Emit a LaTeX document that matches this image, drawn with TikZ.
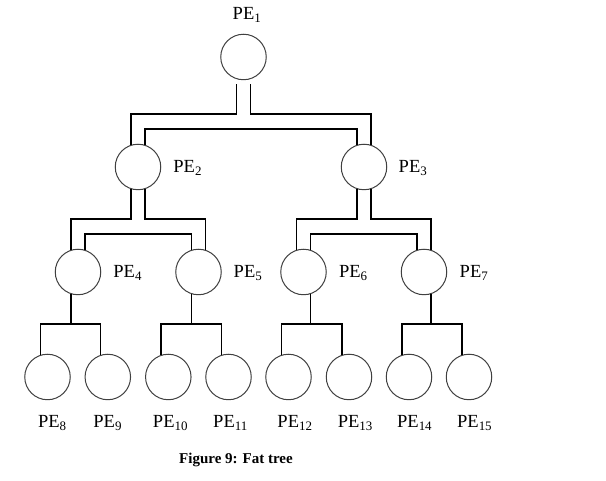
\documentclass[tikz,border=0pt]{standalone}
\usepackage{fontspec}
\setmainfont{Liberation Serif}
\begin{document}
\begin{tikzpicture}[x=1pt,y=1pt,
            pe/.style={circle,draw=black!75,line width=1pt,minimum size=45.5pt,inner sep=0pt},
            lbl/.style={anchor=base,font=\fontsize{18.5}{20}\selectfont},
            link/.style={line width=1.6pt}]
            \useasboundingbox (0,0) rectangle (606,481);
            \coordinate (h1o) at (0,367);
            \coordinate (h1i) at (0,352);
            \coordinate (h2o) at (0,262);
            \coordinate (h2i) at (0,247);
            \coordinate (h3) at (0,157);
            \node[pe] (p1) at (243.5,424){};
            \node[pe] (p2) at (138,314){};
            \node[pe] (p3) at (364,314){};
            \node[pe] (p4) at (78,209){};
            \node[pe] (p5) at (198.5,209){};
            \node[pe] (p6) at (303.5,209){};
            \node[pe] (p7) at (424,209){};
            \node[pe] (p8) at (47.5,104){};
            \node[pe] (p9) at (107.8,104){};
            \node[pe] (p10) at (168.3,104){};
            \node[pe] (p11) at (228.5,104){};
            \node[pe] (p12) at (288.5,104){};
            \node[pe] (p13) at (349,104){};
            \node[pe] (p14) at (409,104){};
            \node[pe] (p15) at (469,104){};
            \node[lbl] (l1) at (247,461){PE\textsubscript{1}};
            \node[lbl] (l2) at (187.7,308){PE\textsubscript{2}};
            \node[lbl] (l3) at (413,308){PE\textsubscript{3}};
            \node[lbl] (l4) at (127.7,203.5){PE\textsubscript{4}};
            \node[lbl] (l5) at (248,203.5){PE\textsubscript{5}};
            \node[lbl] (l6) at (353.3,203.5){PE\textsubscript{6}};
            \node[lbl] (l7) at (474,203.5){PE\textsubscript{7}};
            \node[lbl] (l8) at (52.3,53.5){PE\textsubscript{8}};
            \node[lbl] (l9) at (107.7,53.5){PE\textsubscript{9}};
            \node[lbl] (l10) at (170.5,53.5){PE\textsubscript{10}};
            \node[lbl] (l11) at (230.5,53.5){PE\textsubscript{11}};
            \node[lbl] (l12) at (295,53.5){PE\textsubscript{12}};
            \node[lbl] (l13) at (355.3,53.5){PE\textsubscript{13}};
            \node[lbl] (l14) at (414.7,53.5){PE\textsubscript{14}};
            \node[lbl] (l15) at (474.7,53.5){PE\textsubscript{15}};
            \node[anchor=base,font=\fontsize{15}{17}\selectfont\bfseries] (cap) at (236,17.7){Figure 9: Fat tree};
            \draw[link] ([yshift=-5pt]p1.252) -- (p1.252 |- h1o) -| (p2.108);
            \draw[link] ([yshift=-5pt]p1.288) -- (p1.288 |- h1o) -| (p3.72);
            \draw[link] (p2.72) -- (p2.72 |- h1i) -| (p3.108);
            \draw[link] (p2.252) -- (p2.252 |- h2o) -| (p4.108);
            \draw[link] (p2.288) -- (p2.288 |- h2o) -| (p5.72);
            \draw[link] (p4.72) -- (p4.72 |- h2i) -| (p5.108);
            \draw[link] (p3.252) -- (p3.252 |- h2o) -| (p6.108);
            \draw[link] (p3.288) -- (p3.288 |- h2o) -| (p7.72);
            \draw[link] (p6.72) -- (p6.72 |- h2i) -| (p7.108);
            \draw[link] (p4.252) -- (p4.252 |- h3);
            \draw[link] (p8.108) |- (p9.108 |- h3) -- (p9.108);
            \draw[link] (p5.252) -- (p5.252 |- h3);
            \draw[link] (p10.108) |- (p11.108 |- h3) -- (p11.108);
            \draw[link] (p6.288) -- (p6.288 |- h3);
            \draw[link] (p12.108) |- (p13.108 |- h3) -- (p13.108);
            \draw[link] (p7.288) -- (p7.288 |- h3);
            \draw[link] (p14.108) |- (p15.108 |- h3) -- (p15.108);
\end{tikzpicture}
\end{document}
